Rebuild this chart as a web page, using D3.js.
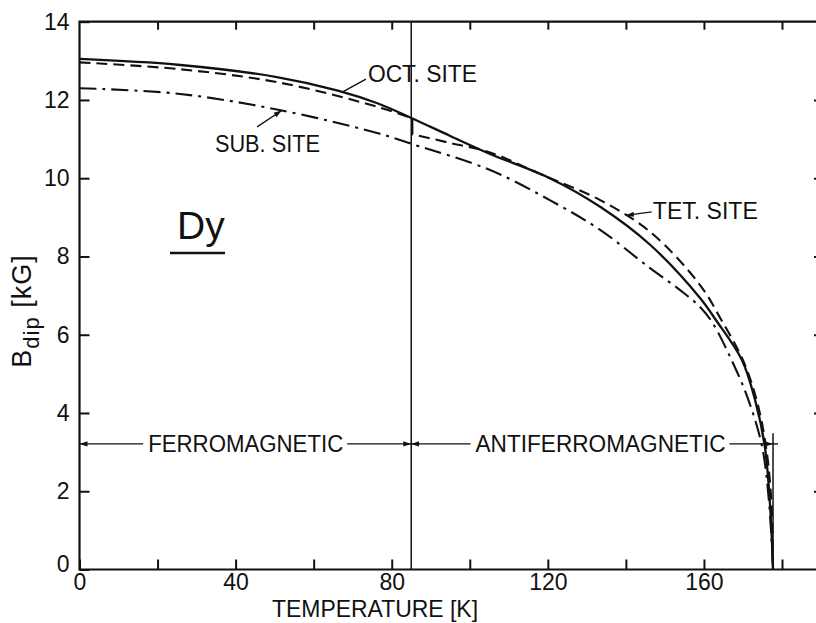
<!DOCTYPE html>
<html>
<head>
<meta charset="utf-8">
<script src="https://cdn.jsdelivr.net/npm/d3@7"></script>
<style>
  html, body { margin: 0; padding: 0; background: #fff; }
  svg { display: block; }
  text { font-family: "Liberation Sans", Arial, sans-serif; fill: #111; }
</style>
</head>
<body>
<svg id="chart" width="816" height="623"></svg>
<script>
// Dipolar field B_dip [kG] at the three Dy sites versus temperature [K]

// Octahedral site (solid curve)
const octT = [0, 25.2, 50.9, 66.2, 76.5, 85, 95, 105.2, 120.5, 133.4, 146.2, 159.0, 163.1, 169.7, 173.1, 175.6, 176.9, 177.7];
const octB = [13.05, 12.90, 12.58, 12.24, 11.91, 11.54, 11.08, 10.62, 10.0, 9.27, 8.30, 6.94, 6.37, 5.36, 4.33, 3.14, 1.70, 0];

// Tetrahedral site (dashed curve), ferromagnetic and antiferromagnetic branches
const tetFerroT = [0, 25.2, 50.9, 76.5, 85];
const tetFerroB = [12.96, 12.79, 12.45, 11.82, 11.54];
const tetAntiT = [85, 95, 105.2, 118.0, 133.4, 146.2, 159.0, 164.5, 170.0, 173.5, 175.9, 177.3, 177.7];
const tetAntiB = [11.13, 10.90, 10.66, 10.11, 9.44, 8.63, 7.27, 6.37, 5.35, 4.33, 3.14, 1.70, 0];

// Substitutional site (dash-dot curve)
const subT = [0, 25.2, 50.9, 76.5, 85, 105.2, 120.5, 133.4, 146.2, 153.9, 159.0, 162.1, 167.1, 171.4, 174.9, 176.7, 177.7];
const subB = [12.30, 12.16, 11.75, 11.15, 10.88, 10.21, 9.44, 8.68, 7.70, 7.14, 6.71, 6.32, 5.35, 4.33, 3.14, 1.70, 0];

// Transition temperatures and the level of the phase bars
const curieT = 85;
const neelT = 177.7;
const phaseBarB = 3.21;
const neelMarkB = 3.48;

// Axis ticks
const xTicks = [0, 20, 40, 60, 80, 100, 120, 140, 160, 180];
const xTickLabels = [0, 40, 80, 120, 160];
const yTicks = [0, 2, 4, 6, 8, 10, 12, 14];

const svg = d3.select("#chart");
const plotLeft = 79.5, plotTop = 21.7, plotBottom = 569.5, plotRight = 823;

const x = d3.scaleLinear().domain([0, 180]).range([plotLeft, 782]);
const y = d3.scaleLinear().domain([0, 14]).range([plotBottom, plotTop]);

// Axes (ticks point inward)
const gx = svg.append("g").attr("transform", `translate(0,${plotBottom})`)
  .call(d3.axisBottom(x).tickValues(xTicks).tickSize(-10).tickPadding(4)
    .tickFormat(d => xTickLabels.includes(d) ? d : ""));
const gxTop = svg.append("g").attr("transform", `translate(0,${plotTop})`)
  .call(d3.axisTop(x).tickValues(xTicks.slice(1)).tickSize(-8).tickFormat(""));
const gy = svg.append("g").attr("transform", `translate(${plotLeft},0)`)
  .call(d3.axisLeft(y).tickValues(yTicks).tickSize(-10).tickPadding(10));
const gyRight = svg.append("g").attr("transform", `translate(${plotRight},0)`)
  .call(d3.axisRight(y).tickValues(yTicks.slice(1, -1)).tickSize(-9).tickFormat(""));

[gx, gxTop, gy, gyRight].forEach(g => {
  g.select(".domain").remove();
  g.selectAll(".tick line").attr("stroke", "#111").attr("stroke-width", 2);
  g.selectAll(".tick text").attr("font-size", 23).attr("fill", "#111")
    .style("font-family", '"Liberation Sans", Arial, sans-serif');
});
// y label "0" sits a little lower, beside the corner
gy.selectAll(".tick").filter(d => d === 0).select("text").attr("dy", "0.1em");

// Frame
svg.append("path")
  .attr("d", `M${plotRight},${plotTop}H${plotLeft}V${plotBottom}H${plotRight}`)
  .attr("fill", "none").attr("stroke", "#111").attr("stroke-width", 2.2);

// Phase boundaries
svg.append("line")
  .attr("x1", x(curieT)).attr("x2", x(curieT))
  .attr("y1", y(14)).attr("y2", y(0))
  .attr("stroke", "#111").attr("stroke-width", 1.5);
svg.append("line")
  .attr("x1", x(neelT)).attr("x2", x(neelT))
  .attr("y1", y(neelMarkB)).attr("y2", y(0))
  .attr("stroke", "#111").attr("stroke-width", 1.5);

// Curves
const line = d3.line().x(d => x(d[0])).y(d => y(d[1])).curve(d3.curveCatmullRom.alpha(0.5));
const zip = (a, b) => a.map((v, i) => [v, b[i]]);

const curves = svg.append("g").attr("fill", "none").attr("stroke", "#111");
curves.append("path").attr("d", line(zip(octT, octB))).attr("stroke-width", 2.3);
curves.append("path").attr("d", line(zip(tetFerroT, tetFerroB)))
  .attr("stroke-width", 2.1).attr("stroke-dasharray", "11,6");
curves.append("path").attr("d", line(zip(tetAntiT, tetAntiB)))
  .attr("stroke-width", 2.1).attr("stroke-dasharray", "11,6").attr("stroke-dashoffset", -8);
// jump of the tetrahedral branch at the Curie point
curves.append("line")
  .attr("x1", x(curieT) + 1).attr("x2", x(curieT) + 1)
  .attr("y1", y(tetFerroB[tetFerroB.length - 1])).attr("y2", y(tetAntiB[0]))
  .attr("stroke-width", 2.3);
curves.append("path").attr("d", line(zip(subT, subB)))
  .attr("stroke-width", 2.1).attr("stroke-dasharray", "17,6,3,6");

// Arrowhead marker
const defs = svg.append("defs");
defs.append("marker").attr("id", "arrow")
  .attr("viewBox", "-8 -4 9 8").attr("refX", 0).attr("refY", 0)
  .attr("markerWidth", 9).attr("markerHeight", 8)
  .attr("markerUnits", "userSpaceOnUse").attr("orient", "auto")
  .append("path").attr("d", "M0,0L-8,-2.6L-8,2.6Z").attr("fill", "#111");

const ann = svg.append("g");
function leader(t0, b0, t1, b1, arrow) {
  const l = ann.append("line")
    .attr("x1", x(t0)).attr("y1", y(b0)).attr("x2", x(t1)).attr("y2", y(b1))
    .attr("stroke", "#111").attr("stroke-width", 1.4);
  if (arrow) l.attr("marker-end", "url(#arrow)");
}
function label(txt, t, b, width) {
  return ann.append("text").attr("x", x(t)).attr("y", y(b))
    .attr("font-size", 23).attr("textLength", width).attr("lengthAdjust", "spacingAndGlyphs")
    .text(txt);
}

// Site labels with leaders
label("OCT. SITE", 73.9, 12.46, 109);
leader(73.4, 12.53, 67.1, 12.19, false);
label("SUB. SITE", 34.7, 10.68, 105);
leader(45.5, 11.31, 51.8, 11.73, true);
label("TET. SITE", 146.9, 8.95, 105);
leader(146.6, 9.14, 140.0, 9.05, true);

// Phase bars
function phaseBar(txt, t0, t1, cx, width, extend) {
  const yy = y(phaseBarB);
  const half = width / 2;
  ann.append("text").attr("x", cx).attr("y", yy).attr("dy", "0.36em")
    .attr("text-anchor", "middle").attr("font-size", 23)
    .attr("textLength", width).attr("lengthAdjust", "spacingAndGlyphs").text(txt);
  ann.append("line").attr("x1", cx - half - 5).attr("x2", x(t0)).attr("y1", yy).attr("y2", yy)
    .attr("stroke", "#111").attr("stroke-width", 1.4).attr("marker-end", "url(#arrow)");
  ann.append("line").attr("x1", cx + half + 4).attr("x2", x(t1)).attr("y1", yy).attr("y2", yy)
    .attr("stroke", "#111").attr("stroke-width", 1.4).attr("marker-end", "url(#arrow)");
  if (extend) {
    ann.append("line").attr("x1", x(t1)).attr("x2", x(t1) + extend).attr("y1", yy).attr("y2", yy)
      .attr("stroke", "#111").attr("stroke-width", 1.4);
  }
}
phaseBar("FERROMAGNETIC", 0, curieT, 245.7, 195, 0);
phaseBar("ANTIFERROMAGNETIC", curieT, neelT, 600.5, 250, 5);

// Element label
ann.append("text").attr("x", 177).attr("y", 238.5)
  .attr("font-size", 39).text("Dy");
ann.append("line").attr("x1", 170).attr("x2", 225).attr("y1", 253).attr("y2", 253)
  .attr("stroke", "#111").attr("stroke-width", 2.5);

// Axis titles
svg.append("text").attr("x", 375).attr("y", 617)
  .attr("text-anchor", "middle").attr("font-size", 24)
  .attr("textLength", 206).attr("lengthAdjust", "spacingAndGlyphs")
  .text("TEMPERATURE [K]");

const yt = svg.append("text").attr("transform", "translate(31,311) rotate(-90)")
  .attr("text-anchor", "middle").attr("font-size", 27).attr("letter-spacing", 1);
yt.append("tspan").text("B");
yt.append("tspan").attr("font-size", 22).attr("dy", 8).text("dip");
yt.append("tspan").attr("dy", -8).text(" [kG]");
</script>
</body>
</html>
